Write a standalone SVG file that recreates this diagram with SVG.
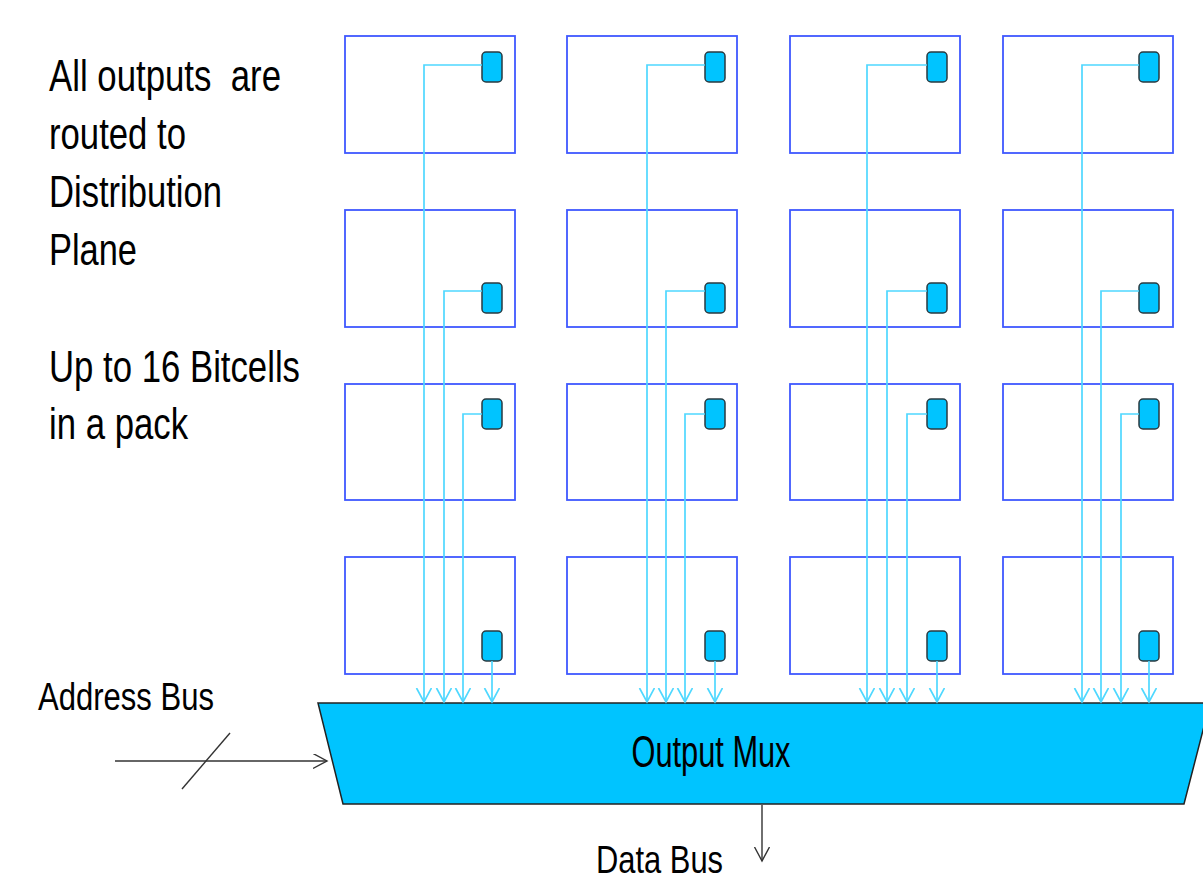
<svg xmlns="http://www.w3.org/2000/svg" width="1203" height="881" viewBox="0 0 1203 881">
<style>
.cell{fill:#ffffff;stroke:#3f58ff;stroke-width:1.8}
.pad{fill:#00c4ff;stroke:#2a3a40;stroke-width:1.5}
.wire{fill:none;stroke:#4fd8ff;stroke-width:1.7}
.bus{fill:none;stroke:#333333;stroke-width:1.4}
.lbl{font-family:"Liberation Sans",Arial,sans-serif;fill:#000000}
.mux{fill:#00c4ff;stroke:#222222;stroke-width:1.5}
</style>
<defs>
<marker id="ac" markerWidth="18" markerHeight="18" refX="14" refY="7.5" orient="auto" markerUnits="userSpaceOnUse">
<path d="M0,0 L14,7.5 L0,15" fill="none" stroke="#4fd8ff" stroke-width="1.7"/>
</marker>
<marker id="ad" markerWidth="18" markerHeight="18" refX="14" refY="7.5" orient="auto" markerUnits="userSpaceOnUse">
<path d="M0,0 L14,7.5 L0,15" fill="none" stroke="#333333" stroke-width="1.4"/>
</marker>
</defs>
<rect width="1203" height="881" fill="#ffffff"/>

<g id="text-left">
<text class="lbl" x="49" y="91" font-size="44" textLength="232" lengthAdjust="spacingAndGlyphs" xml:space="preserve">All outputs  are</text>
<text class="lbl" x="49" y="149" font-size="44" textLength="137" lengthAdjust="spacingAndGlyphs">routed to</text>
<text class="lbl" x="49" y="207" font-size="44" textLength="173" lengthAdjust="spacingAndGlyphs">Distribution</text>
<text class="lbl" x="49" y="265" font-size="44" textLength="88" lengthAdjust="spacingAndGlyphs">Plane</text>
<text class="lbl" x="49" y="382" font-size="44" textLength="251" lengthAdjust="spacingAndGlyphs">Up to 16 Bitcells</text>
<text class="lbl" x="49" y="439" font-size="44" textLength="139" lengthAdjust="spacingAndGlyphs">in a pack</text>
</g>

<g id="cells">
<g id="c1r1"><rect class="cell" x="345" y="36" width="170" height="117"/><rect class="pad" x="482" y="52" width="20" height="30" rx="4"/></g>
<g id="c1r2"><rect class="cell" x="345" y="210" width="170" height="117"/><rect class="pad" x="482" y="283" width="20" height="30" rx="4"/></g>
<g id="c1r3"><rect class="cell" x="345" y="384" width="170" height="116"/><rect class="pad" x="482" y="399" width="20" height="30" rx="4"/></g>
<g id="c1r4"><rect class="cell" x="345" y="557" width="170" height="117"/><rect class="pad" x="482" y="631" width="20" height="30" rx="4"/></g>

<g id="c2r1"><rect class="cell" x="567" y="36" width="170" height="117"/><rect class="pad" x="705" y="52" width="20" height="30" rx="4"/></g>
<g id="c2r2"><rect class="cell" x="567" y="210" width="170" height="117"/><rect class="pad" x="705" y="283" width="20" height="30" rx="4"/></g>
<g id="c2r3"><rect class="cell" x="567" y="384" width="170" height="116"/><rect class="pad" x="705" y="399" width="20" height="30" rx="4"/></g>
<g id="c2r4"><rect class="cell" x="567" y="557" width="170" height="117"/><rect class="pad" x="705" y="631" width="20" height="30" rx="4"/></g>

<g id="c3r1"><rect class="cell" x="790" y="36" width="170" height="117"/><rect class="pad" x="927" y="52" width="20" height="30" rx="4"/></g>
<g id="c3r2"><rect class="cell" x="790" y="210" width="170" height="117"/><rect class="pad" x="927" y="283" width="20" height="30" rx="4"/></g>
<g id="c3r3"><rect class="cell" x="790" y="384" width="170" height="116"/><rect class="pad" x="927" y="399" width="20" height="30" rx="4"/></g>
<g id="c3r4"><rect class="cell" x="790" y="557" width="170" height="117"/><rect class="pad" x="927" y="631" width="20" height="30" rx="4"/></g>

<g id="c4r1"><rect class="cell" x="1003" y="36" width="170" height="117"/><rect class="pad" x="1139" y="52" width="20" height="30" rx="4"/></g>
<g id="c4r2"><rect class="cell" x="1003" y="210" width="170" height="117"/><rect class="pad" x="1139" y="283" width="20" height="30" rx="4"/></g>
<g id="c4r3"><rect class="cell" x="1003" y="384" width="170" height="116"/><rect class="pad" x="1139" y="399" width="20" height="30" rx="4"/></g>
<g id="c4r4"><rect class="cell" x="1003" y="557" width="170" height="117"/><rect class="pad" x="1139" y="631" width="20" height="30" rx="4"/></g>
</g>

<g id="mux">
<polygon class="mux" points="318,703 1210,703 1184,804 343,804"/>
<text class="lbl" x="711" y="767" font-size="44" text-anchor="middle" textLength="159" lengthAdjust="spacingAndGlyphs">Output Mux</text>
</g>

<g id="connectors">
<path class="wire" marker-end="url(#ac)" d="M482,65 H424 V702"/>
<path class="wire" marker-end="url(#ac)" d="M482,291 H444 V702"/>
<path class="wire" marker-end="url(#ac)" d="M482,414 H463 V702"/>
<path class="wire" marker-end="url(#ac)" d="M492,661 V702"/>

<path class="wire" marker-end="url(#ac)" d="M705,65 H647 V702"/>
<path class="wire" marker-end="url(#ac)" d="M705,291 H666 V702"/>
<path class="wire" marker-end="url(#ac)" d="M705,414 H685 V702"/>
<path class="wire" marker-end="url(#ac)" d="M715,661 V702"/>

<path class="wire" marker-end="url(#ac)" d="M927,65 H867 V702"/>
<path class="wire" marker-end="url(#ac)" d="M927,291 H887 V702"/>
<path class="wire" marker-end="url(#ac)" d="M927,414 H907 V702"/>
<path class="wire" marker-end="url(#ac)" d="M937,661 V702"/>

<path class="wire" marker-end="url(#ac)" d="M1139,65 H1082 V702"/>
<path class="wire" marker-end="url(#ac)" d="M1139,291 H1101 V702"/>
<path class="wire" marker-end="url(#ac)" d="M1139,414 H1121 V702"/>
<path class="wire" marker-end="url(#ac)" d="M1149,661 V702"/>

<path class="bus" marker-end="url(#ad)" d="M115,761 H327"/>
<path class="bus" d="M182,789 L230,733"/>
<path class="bus" marker-end="url(#ad)" d="M762,805 V861"/>
</g>

<g id="bus-labels">
<text class="lbl" x="38" y="710" font-size="38" textLength="176" lengthAdjust="spacingAndGlyphs">Address Bus</text>
<text class="lbl" x="596" y="873" font-size="38" textLength="127" lengthAdjust="spacingAndGlyphs">Data Bus</text>
</g>
</svg>
